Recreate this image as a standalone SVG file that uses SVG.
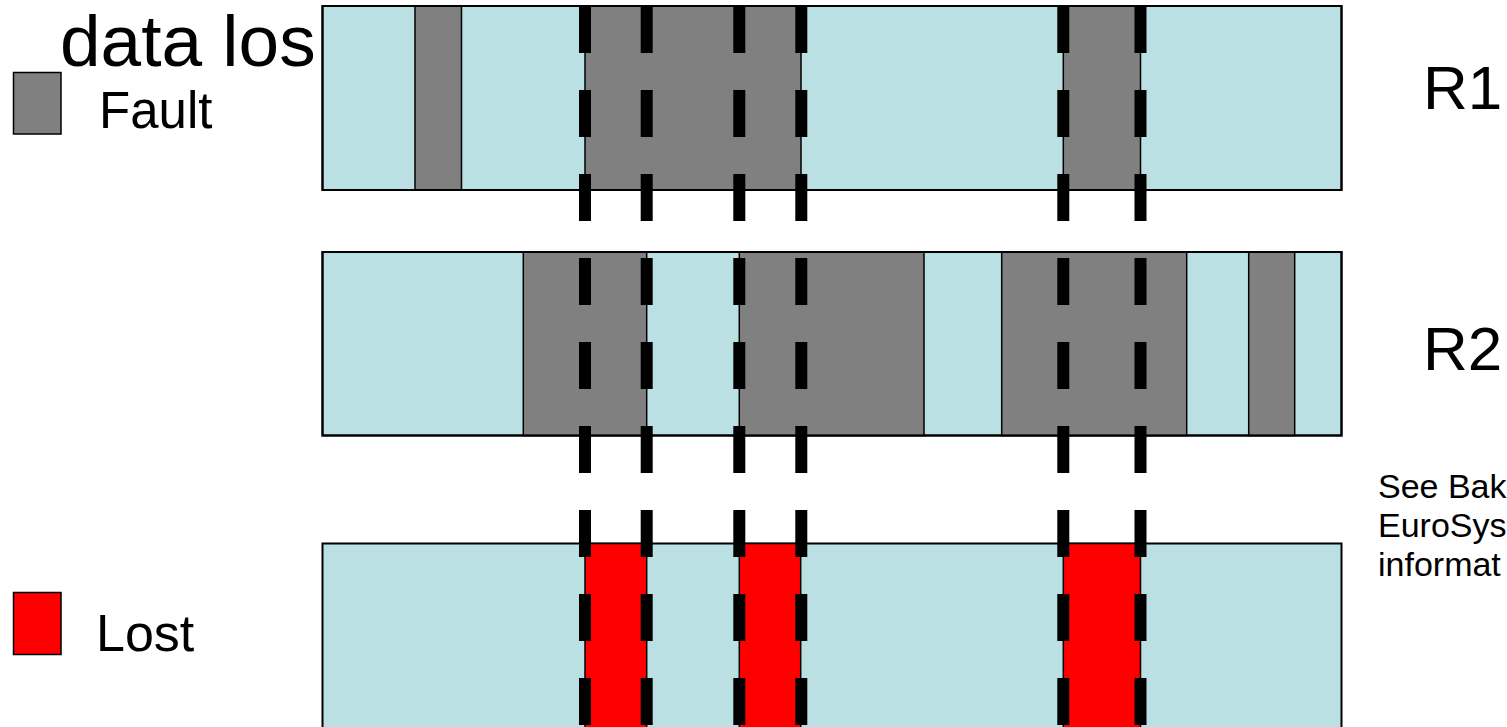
<svg xmlns="http://www.w3.org/2000/svg" width="1507" height="727" viewBox="0 0 1507 727">
<style>
.bar{fill:#BBE0E3;stroke:#000;stroke-width:2}
.flt{fill:#808080;stroke:#000;stroke-width:1.5}
.lost{fill:#FF0000;stroke:#000;stroke-width:1.5}
.t{font-family:"Liberation Sans",Arial,sans-serif;fill:#000}
.dash{stroke:#000;stroke-width:12;stroke-dasharray:47 37;fill:none}
</style>
<rect width="1507" height="727" fill="#fff"/>
<g id="legend">
<text class="t" x="60" y="66" font-size="73">data los</text>
<rect class="flt" x="13.5" y="72.5" width="47.5" height="61.5" stroke-width="2"/>
<text class="t" x="99" y="128" font-size="51">Fault</text>
<rect class="lost" x="13.5" y="592.5" width="47.5" height="62" stroke-width="2"/>
<text class="t" x="96" y="650.5" font-size="52">Lost</text>
</g>
<g id="r1">
<rect class="bar" x="322.5" y="6" width="1019" height="184"/>
<rect class="flt" x="415" y="6" width="46.5" height="184"/>
<rect class="flt" x="585" y="6" width="216" height="184"/>
<rect class="flt" x="1063.3" y="6" width="77.2" height="184"/>
<rect x="322.5" y="6" width="1019" height="184" fill="none" stroke="#000" stroke-width="2"/>
</g>
<g id="r2">
<rect class="bar" x="322.5" y="252" width="1019" height="183.5"/>
<rect class="flt" x="523.3" y="252" width="123.4" height="183.5"/>
<rect class="flt" x="739.3" y="252" width="184.7" height="183.5"/>
<rect class="flt" x="1001.7" y="252" width="185" height="183.5"/>
<rect class="flt" x="1248.7" y="252" width="46" height="183.5"/>
<rect x="322.5" y="252" width="1019" height="183.5" fill="none" stroke="#000" stroke-width="2"/>
</g>
<g id="result">
<rect class="bar" x="322.5" y="543.5" width="1019" height="190"/>
<rect class="lost" x="585" y="543.5" width="61.7" height="190"/>
<rect class="lost" x="739.3" y="543.5" width="61.4" height="190"/>
<rect class="lost" x="1063.3" y="543.5" width="77.2" height="190"/>
</g>
<g id="labels">
<text class="t" x="1423" y="109" font-size="62">R1</text>
<text class="t" x="1423" y="370" font-size="62">R2</text>
<text class="t" x="1378" y="498" font-size="34">See Bak</text>
<text class="t" x="1378" y="537" font-size="34">EuroSys</text>
<text class="t" x="1378" y="576" font-size="34">informat</text>
</g>
<g id="connectors">
<line class="dash" x1="585" y1="6" x2="585" y2="730"/>
<line class="dash" x1="646.7" y1="6" x2="646.7" y2="730"/>
<line class="dash" x1="739.3" y1="6" x2="739.3" y2="730"/>
<line class="dash" x1="801.3" y1="6" x2="801.3" y2="730"/>
<line class="dash" x1="1063.3" y1="6" x2="1063.3" y2="730"/>
<line class="dash" x1="1140.5" y1="6" x2="1140.5" y2="730"/>
</g>
</svg>
